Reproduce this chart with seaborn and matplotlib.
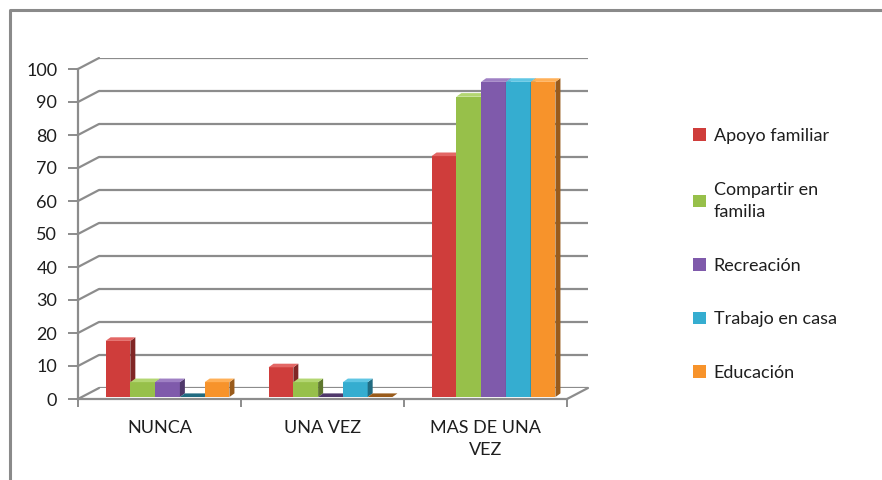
import matplotlib
matplotlib.use("Agg")
import matplotlib.pyplot as plt
import matplotlib.colors as mcolors
import seaborn as sns
import pandas as pd
from matplotlib.patches import Polygon, Patch
from matplotlib.lines import Line2D

categories = ["NUNCA", "UNA VEZ", "MAS DE UNA\nVEZ"]
series = ["Apoyo familiar", "Compartir en\nfamilia", "Recreación", "Trabajo en casa", "Educación"]
apoyo = [17, 9, 73]
compartir = [4.5, 4.5, 91]
recreacion = [4.5, 0, 95.5]
trabajo = [0, 4.5, 95.5]
educacion = [4.5, 0, 95.5]
yticks = list(range(0, 101, 10))
colors = ["#CF3D3B", "#97C04A", "#7F5AAB", "#35ADD0", "#F7932B"]

values = [apoyo, compartir, recreacion, trabajo, educacion]
rows = []
for s, vals in zip(series, values):
    for c, v in zip(categories, vals):
        rows.append({"category": c, "series": s, "value": v})
df = pd.DataFrame(rows)

sns.set_theme(style="white")
plt.rcParams['font.family'] = ['Lato', 'DejaVu Sans']

W, H = 882, 480
fig = plt.figure(figsize=(W / 100, H / 100), dpi=100)


def rect(x0, ytop, w, h):
    return [x0 / W, (H - ytop - h) / H, w / W, h / H]


GRID = "#8C8C8C"
TXT = "#1E1E1E"
FS = 13

back = fig.add_axes(rect(99, 58, 489, 330))
bars = fig.add_axes(rect(86, 67, 489, 330))
front = fig.add_axes(rect(78, 69, 489, 330))

for ax in (back, bars, front):
    ax.set_xlim(-0.5, 2.5)
    ax.set_ylim(0, 100)
    ax.patch.set_alpha(0)

# back wall gridlines
for s in back.spines.values():
    s.set_visible(False)
back.set_xticks([])
back.set_yticks([])
for y in yticks:
    back.axhline(y, color=GRID, lw=1.6, zorder=1)

# bars
sns.barplot(data=df, x="category", y="value", hue="series", order=categories,
            hue_order=series, palette=colors, saturation=1, width=0.76,
            legend=False, ax=bars, linewidth=0)
for s in bars.spines.values():
    s.set_visible(False)
bars.set_xticks([])
bars.set_yticks([])
bars.set_xlabel("")
bars.set_ylabel("")
bars.set_xlim(-0.5, 2.5)
bars.set_ylim(0, 100)

dx = 5.0 / 163.0
dy = 3.6 / 3.3
ncat = len(categories)
for i, p in enumerate(list(bars.patches)):
    k = i // ncat
    base = mcolors.to_rgb(colors[k])
    dark = tuple(c * 0.62 for c in base)
    light = tuple(min(1, c * 0.85 + 0.2) for c in base)
    x0 = p.get_x()
    x1 = x0 + p.get_width()
    h = p.get_height()
    p.set_zorder(10 + 2 * k)
    side = Polygon([(x1, 0), (x1 + dx, dy), (x1 + dx, h + dy), (x1, h)],
                   closed=True, facecolor=dark, edgecolor="none", zorder=11 + 2 * k)
    top = Polygon([(x0, h), (x1, h), (x1 + dx, h + dy), (x0 + dx, h + dy)],
                  closed=True, facecolor=light if h > 0 else dark, edgecolor="none",
                  zorder=11 + 2 * k)
    bars.add_patch(side)
    bars.add_patch(top)

# front axes
for name, s in front.spines.items():
    if name in ("left", "bottom"):
        s.set_color(GRID)
        s.set_linewidth(1.6)
    else:
        s.set_visible(False)
front.set_yticks(yticks)
front.set_yticklabels([str(t) for t in yticks])
front.tick_params(axis="y", direction="out", length=7, width=1.4, color=GRID,
                  labelsize=FS, labelcolor=TXT, pad=8, left=True)
front.set_xticks(range(len(categories)))
front.set_xticklabels(categories)
for t in front.get_xticklabels():
    t.set_linespacing(1.45)
front.set_xticks([-0.5, 0.5, 1.5, 2.5], minor=True)
front.tick_params(axis="x", which="major", length=0, labelsize=FS, labelcolor=TXT, pad=15)
front.tick_params(axis="x", which="minor", direction="out", length=6, width=1.4,
                  color=GRID, bottom=True)
front.grid(False)
back.grid(False)
bars.grid(False)

# perspective connectors (front plane -> back wall)
inv = fig.transFigure.inverted()


def connect(xd, yd):
    a = inv.transform(front.transData.transform((xd, yd)))
    b = inv.transform(back.transData.transform((xd, yd)))
    fig.add_artist(Line2D([a[0], b[0]], [a[1], b[1]], color=GRID, lw=1.6))


for y in yticks:
    connect(-0.5, y)
connect(2.5, 0)

# legend
handles = [Patch(facecolor=c, edgecolor="none") for c in colors]
leg = fig.legend(handles, series, loc="upper left", bbox_to_anchor=(693 / W, 1 - 128 / H),
                 frameon=False, fontsize=FS, handlelength=0.7, handleheight=0.7,
                 handletextpad=0.45, labelspacing=2.08, borderaxespad=0, borderpad=0)
for t in leg.get_texts():
    t.set_color(TXT)
    t.set_linespacing(1.5)

# outer frame
fig.add_artist(Line2D([10 / W, 10 / W, 1.0], [0.0, 1 - 10 / H, 1 - 10 / H],
                      color="#8A8A8A", lw=2.2))

fig.savefig("out.png", dpi=100)
